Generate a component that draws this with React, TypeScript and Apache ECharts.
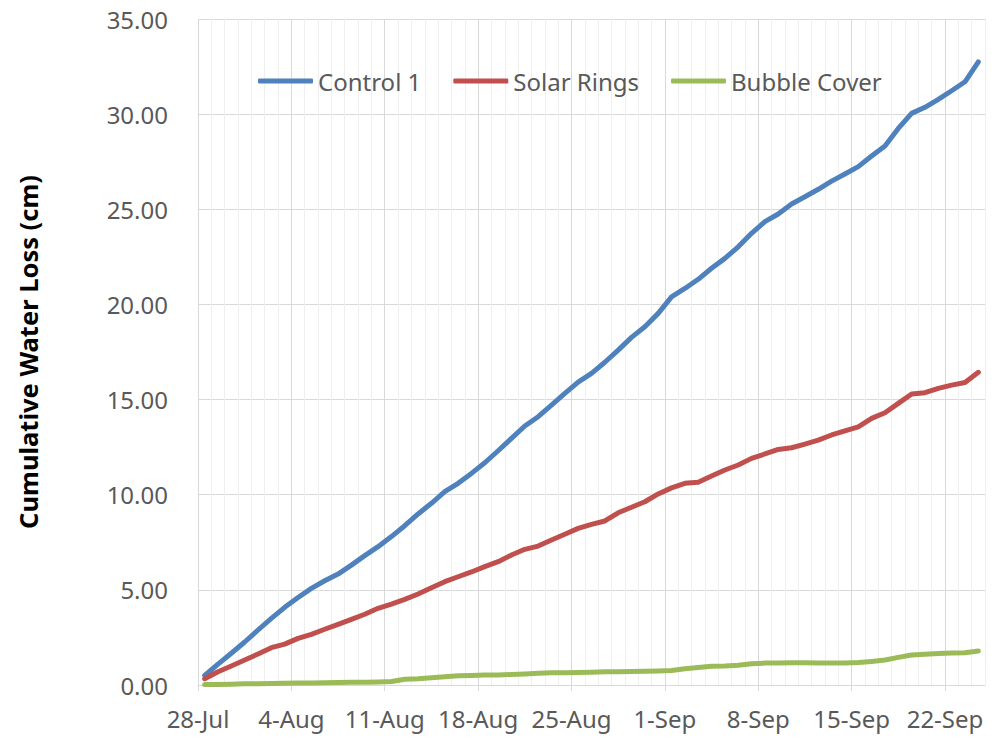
import React, { useEffect, useRef } from "react";
import * as echarts from "echarts";

const tickLabels = ["28-Jul", "4-Aug", "11-Aug", "18-Aug", "25-Aug", "1-Sep", "8-Sep", "15-Sep", "22-Sep"];
const seriesNames = ["Control 1", "Solar Rings", "Bubble Cover"];
const seriesColors = ["#4f81bd", "#c0504d", "#9bbb59"];

// daily values, 28-Jul .. 24-Sep
const control1 = [
  0.5, 1.1, 1.67, 2.26, 2.89, 3.5, 4.08, 4.6, 5.08, 5.48,
  5.83, 6.3, 6.8, 7.27, 7.8, 8.37, 8.99, 9.55, 10.16, 10.6,
  11.12, 11.68, 12.31, 12.96, 13.61, 14.1, 14.71, 15.33, 15.92, 16.38,
  16.96, 17.6, 18.27, 18.83, 19.53, 20.4, 20.84, 21.32, 21.9, 22.42,
  23.03, 23.74, 24.35, 24.75, 25.28, 25.66, 26.05, 26.48, 26.85, 27.24,
  27.8, 28.32, 29.25, 30.04, 30.36, 30.78, 31.23, 31.7, 32.75,
];
const solarRings = [
  0.33, 0.7, 1.0, 1.31, 1.63, 1.96, 2.15, 2.45, 2.66, 2.93,
  3.19, 3.45, 3.72, 4.03, 4.25, 4.5, 4.78, 5.11, 5.43, 5.69,
  5.94, 6.22, 6.48, 6.83, 7.13, 7.3, 7.62, 7.92, 8.23, 8.44,
  8.62, 9.05, 9.34, 9.63, 10.04, 10.36, 10.6, 10.65, 10.98, 11.3,
  11.56, 11.91, 12.14, 12.38, 12.47, 12.66, 12.87, 13.14, 13.36, 13.57,
  14.01, 14.31, 14.8, 15.29, 15.36, 15.59, 15.76, 15.9, 16.43,
];
const bubbleCover = [
  0.02, 0.03, 0.04, 0.06, 0.07, 0.08, 0.09, 0.1, 0.11, 0.12,
  0.13, 0.14, 0.15, 0.16, 0.18, 0.3, 0.33, 0.38, 0.43, 0.48,
  0.5, 0.52, 0.53, 0.55, 0.58, 0.62, 0.64, 0.65, 0.66, 0.67,
  0.69, 0.7, 0.71, 0.72, 0.74, 0.76, 0.85, 0.92, 0.98, 1.0,
  1.04, 1.12, 1.15, 1.16, 1.17, 1.17, 1.16, 1.15, 1.15, 1.18,
  1.24, 1.31, 1.45, 1.58, 1.62, 1.66, 1.68, 1.69, 1.79,
];

const allSeries = [control1, solarRings, bubbleCover];
const DAYS = 59;
const FONT = "Noto Sans";

export default function App() {
  const ref = useRef<HTMLDivElement>(null);
  useEffect(() => {
    if (!ref.current) return;
    const chart = echarts.init(ref.current, null, { renderer: "svg" });
    const minor = "#efefef";
    const major = "#d9d9d9";
    chart.setOption({
      animation: false,
      backgroundColor: "#ffffff",
      grid: { left: 198, right: 12, top: 19, bottom: 60, containLabel: false },
      legend: {
        left: 253,
        top: 64,
        icon: "roundRect",
        itemWidth: 55,
        itemHeight: 5,
        itemGap: 32,
        textStyle: { fontFamily: FONT, fontSize: 24, color: "#595959" },
        data: seriesNames,
      },
      xAxis: [
        {
          type: "value",
          min: 0,
          max: DAYS,
          interval: 1,
          axisLine: { show: true, lineStyle: { color: major, width: 1 } },
          axisTick: { show: false },
          axisLabel: { show: false },
          splitLine: {
            show: true,
            lineStyle: { color: [major, minor, minor, minor, minor, minor, minor], width: 1 },
          },
        },
        {
          type: "value",
          min: 0,
          max: DAYS,
          interval: 7,
          position: "bottom",
          axisLine: { show: false },
          axisTick: { show: true, length: 6, lineStyle: { color: major } },
          splitLine: { show: false },
          axisLabel: {
            margin: 21,
            fontFamily: FONT,
            fontSize: 24,
            color: "#595959",
            showMaxLabel: false,
            formatter: (v: number) => (v % 7 === 0 ? tickLabels[v / 7] ?? "" : ""),
          },
        },
      ],
      yAxis: {
        type: "value",
        min: 0,
        max: 35,
        interval: 5,
        name: "Cumulative Water Loss (cm)",
        nameLocation: "middle",
        nameRotate: 90,
        nameGap: 157,
        nameTextStyle: { fontFamily: FONT, fontSize: 25.5, fontWeight: "bold", color: "#000000" },
        axisLine: { show: false },
        axisTick: { show: false },
        axisLabel: {
          margin: 30,
          fontFamily: FONT,
          fontSize: 24,
          color: "#595959",
          formatter: (v: number) => v.toFixed(2),
        },
        splitLine: { show: true, lineStyle: { color: major, width: 1 } },
      },
      series: allSeries.map((vals, k) => ({
        name: seriesNames[k],
        type: "line",
        xAxisIndex: 0,
        symbol: "none",
        color: seriesColors[k],
        itemStyle: { color: seriesColors[k] },
        lineStyle: { width: 5, color: seriesColors[k], cap: "round", join: "round" },
        data: vals.map((v, i) => [i + 0.5, v]),
      })),
    });
    return () => chart.dispose();
  }, []);
  return <div ref={ref} style={{ width: 997, height: 745, position: "absolute", left: 0, top: 0 }} />;
}
